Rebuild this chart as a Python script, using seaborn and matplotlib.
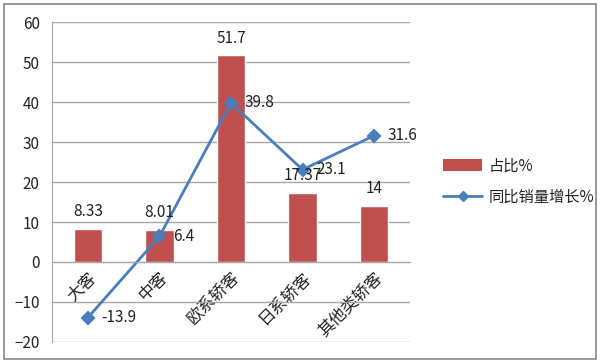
import matplotlib
matplotlib.use('Agg')
import matplotlib.pyplot as plt
import seaborn as sns
from matplotlib.patches import Patch, Rectangle
from matplotlib.lines import Line2D

# data
categories = ['大客', '中客', '欧系轿客', '日系轿客', '其他类轿客']
share = [8.33, 8.01, 51.7, 17.37, 14]
growth = [-13.9, 6.4, 39.8, 23.1, 31.6]
share_labels = ['8.33', '8.01', '51.7', '17.37', '14']
growth_labels = ['-13.9', '6.4', '39.8', '23.1', '31.6']

sns.set_style('white')
plt.rcParams['font.family'] = ['Noto Sans CJK SC', 'DejaVu Sans']

bar_color = '#C0504D'
line_color = '#4A7EBB'
text_color = '#222222'
grid_color = '#A6A6A6'

fig = plt.figure(figsize=(6, 3.63), dpi=100)
ax = fig.add_axes([0.087, 0.058, 0.596, 0.881])

sns.barplot(x=categories, y=share, color=bar_color, width=0.4, ax=ax, saturation=1)
sns.pointplot(x=categories, y=growth, color=line_color, markers='D', markersize=6,
              linewidth=2, ax=ax)

ax.set_ylim(-20, 60)
ax.set_xlim(-0.5, 4.5)
ax.set_yticks(range(-20, 61, 10))
ax.yaxis.grid(True, color=grid_color, linewidth=1)
ax.set_axisbelow(True)

for s in ['top', 'right']:
    ax.spines[s].set_visible(False)
ax.spines['left'].set_color(grid_color)
ax.spines['bottom'].set_color(grid_color)
ax.spines['bottom'].set_position(('data', 0))

ax.tick_params(axis='y', length=5, color=grid_color, labelsize=11, labelcolor=text_color, pad=4)
ax.set_xticks(range(len(categories)))
ax.set_xticklabels(categories, rotation=45, ha='right', rotation_mode='anchor',
                   fontsize=12, color=text_color)
ax.tick_params(axis='x', length=0, pad=5)
ax.set_xticks([i - 0.5 for i in range(len(categories) + 1)], minor=True)
ax.tick_params(axis='x', which='minor', length=5, color=grid_color)
for lbl in ax.get_xticklabels():
    x, y = lbl.get_position()
    lbl.set_x(x + 0.1)

# value labels
for i, (v, t) in enumerate(zip(share, share_labels)):
    ax.text(i, v + 2.2, t, ha='center', va='bottom', fontsize=11, color=text_color)
for i, (v, t) in enumerate(zip(growth, growth_labels)):
    ax.text(i + 0.19, v, t, ha='left', va='center', fontsize=11, color=text_color)

handles = [Patch(facecolor=bar_color, edgecolor='none'),
           Line2D([], [], color=line_color, marker='D', markersize=5, linewidth=2)]
fig.legend(handles, ['占比%', '同比销量增长%'], loc='center left',
           bbox_to_anchor=(0.715, 0.5), frameon=False, fontsize=11,
           handlelength=2.6, handleheight=0.8, labelspacing=0.9, handletextpad=0.4,
           labelcolor=text_color)

# outer border
fig.patches.append(Rectangle((0.006, 0.011), 0.988, 0.978, transform=fig.transFigure,
                             fill=False, edgecolor='#888888', linewidth=1.2))

fig.savefig('out.png', dpi=100)
